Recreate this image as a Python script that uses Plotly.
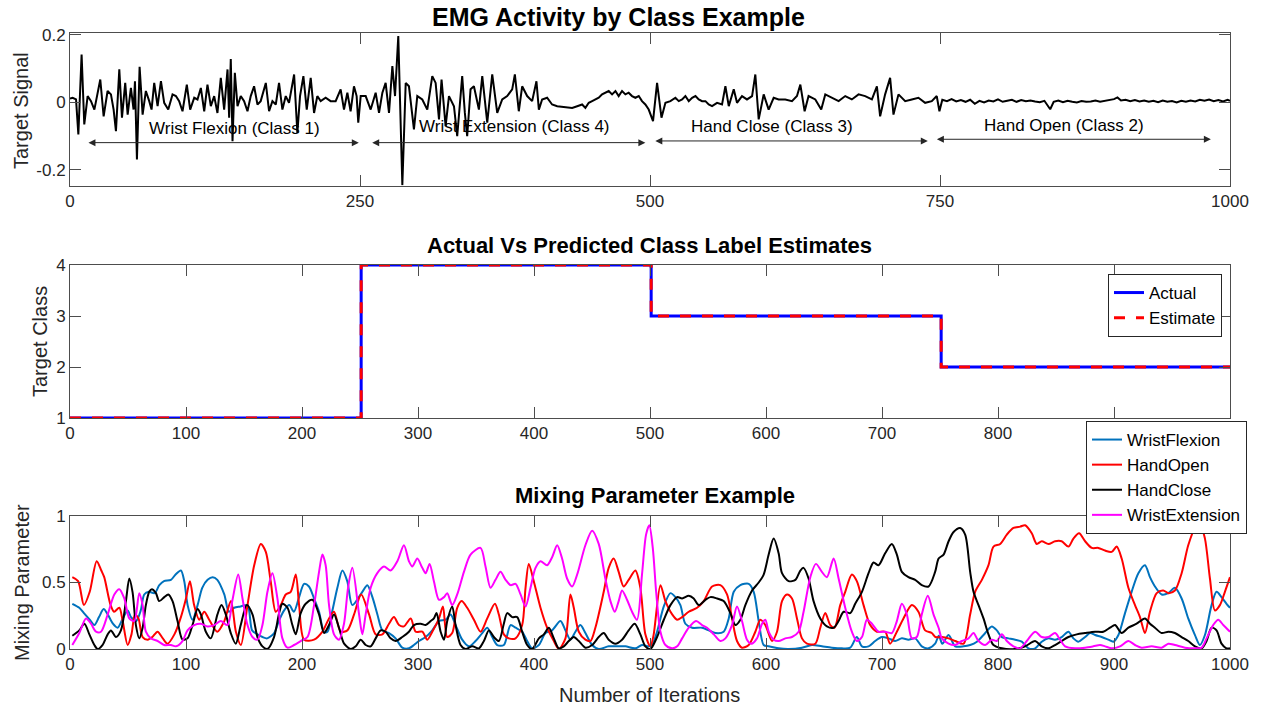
import plotly.graph_objects as go

W, H = 1261, 708

# ---------------- Panel 1 : EMG target signal ----------------
emg_iter = [0, 2.3, 5.2, 7.2, 10.0, 12.3, 15.2, 18.1, 21.0, 23.8, 26.1, 29.0, 32.4, 35.3, 37.6, 39.6, 42.5, 44.8,
            47.6, 49.7, 52.5, 54.8, 56.0, 57.7, 60.0, 62.6, 65.4, 68.3, 70.3, 72.6, 75.5, 78.4, 81.2, 84.7, 88.4,
            91.3, 94.1, 97.0, 100.7, 103.6, 107.1, 109.9, 112.8, 115.7, 118.5, 121.4, 124.3, 127.1, 130.0, 132.9,
            135.8, 137.2, 138.6, 140.1, 142.1, 144.4, 147.2, 150.1, 153.0, 155.8, 158.7, 161.6, 164.4, 168.8, 171.6,
            174.5, 177.4, 180.2, 183.1, 186.0, 188.8, 193.2, 196.0, 198.3, 201.2, 204.1, 207.5, 210.4, 213.2, 216.1,
            220.4, 224.7, 229.0, 233.3, 236.2, 239.1, 241.9, 244.8, 247.1, 248.5,
            250.6, 254.9, 259.2, 263.5, 266.4, 269.3, 272.1, 275.0, 277.9, 280.2, 283.0, 286.5, 289.4, 292.2, 296.5,
            299.4, 303.7, 308.0, 312.3, 315.2, 318.1, 320.3, 323.8, 326.7, 331.0, 333.8, 338.1, 340.4, 342.4, 345.3,
            348.2, 352.5, 355.4, 359.7, 364.0, 368.3, 372.6, 376.9, 381.2, 383.5, 386.9, 389.8, 394.1, 398.4, 402.1,
            404.2, 407.0, 411.3, 415.6, 420.0, 424.2, 428.5, 432.9, 437.2, 441.5, 444.3, 447.2, 450.1, 452.9, 455.8,
            458.7, 461.5, 464.4, 467.3, 470.2, 473.0, 475.9, 478.8, 481.6, 484.5, 487.4, 490.3, 493.1, 496.0, 498.9,
            502.6, 506.1, 509.9, 513.3, 517.6, 521.9, 524.8, 527.7, 530.5, 533.4, 536.3, 539.2, 542.0, 544.9, 547.8,
            550.6, 553.5, 557.8, 562.1, 565.0, 567.9, 572.2, 575.0, 579.3, 583.6, 588.0, 590.8, 593.7, 598.0, 602.3,
            606.6, 610.9, 616.6, 622.4, 626.7, 629.6, 633.3, 636.7, 642.5, 647.6, 651.1, 656.8, 662.6, 668.3, 674.0,
            679.8, 685.5, 691.3, 695.6, 698.4, 702.7, 707.0, 709.9, 714.2, 720.0, 725.7, 731.4, 737.2, 742.9, 747.2,
            749.5, 752, 756, 760, 764, 768, 772, 776, 780, 784, 788, 792, 796, 800, 804, 808, 812, 816, 820, 824,
            828, 832, 836, 840, 845, 848, 852, 856, 860, 864, 868, 872, 876, 880, 884, 888, 892, 896, 900, 903,
            906, 910, 914, 918, 922, 926, 930, 934, 938, 942, 946, 950, 954, 958, 962, 966, 970, 974, 978, 982,
            986, 990, 994, 998, 1000]
emg_val = [0.012, 0.014, 0.009, -0.095, 0.142, -0.065, 0.019, 0.004, -0.021, 0.024, 0.068, -0.041, 0.034, 0.024,
           -0.021, -0.085, 0.098, -0.045, 0.058, -0.036, 0.043, -0.021, 0.063, -0.169, 0.106, -0.036, 0.034, 0.004,
           -0.021, 0.058, -0.011, 0.063, -0.001, -0.021, 0.024, 0.019, 0.004, -0.026, 0.053, -0.021, 0.014, 0.009,
           0.043, -0.026, 0.053, -0.011, 0.019, -0.031, 0.073, -0.021, 0.098, -0.045, 0.129, -0.115, 0.088, -0.011,
           0.019, 0.004, -0.026, 0.019, 0.048, -0.006, 0.004, 0.058, -0.026, 0.004, -0.006, 0.058, -0.021, 0.019,
           -0.001, 0.083, -0.090, 0.019, 0.078, -0.021, 0.073, -0.031, 0.019, 0.004, 0.014, 0.004, 0.004, 0.039,
           -0.021, 0.029, -0.026, 0.048, 0.019, -0.060,
           0.019, 0.019, -0.021, 0.029, -0.031, 0.029, 0.058, -0.031, 0.108, 0.019, 0.197, -0.245, 0.058, 0.048,
           -0.080, 0.019, 0.009, -0.021, 0.078, 0.058, -0.050, 0.068, -0.070, 0.019, -0.011, -0.100, 0.078, -0.031,
           -0.100, 0.039, 0.048, -0.021, 0.078, -0.060, 0.083, -0.031, 0.009, 0.019, 0.039, 0.083, -0.026, 0.048,
           0.019, 0.004, 0.063, -0.021, 0.009, 0.014, -0.006, -0.011, -0.013, -0.016, -0.016, -0.011, -0.006,
           -0.016, -0.001, 0.004, 0.009, 0.014, 0.024, 0.029, 0.034, 0.024, 0.034, 0.019, 0.034, 0.024, 0.029,
           0.019, 0.014, 0.019, 0.004, -0.006, -0.021,
           -0.055, 0.058, -0.045, -0.001, 0.004, 0.014, 0.004, 0.009, 0.019, 0.004, 0.014, 0.019, 0.009, 0.004,
           0.004, -0.006, -0.011, -0.001, -0.006, 0.048, -0.011, 0.039, -0.001, 0.019, 0.009, 0.019, 0.083, -0.050,
           0.024, -0.021, 0.014, 0.009, 0.009, 0.004, 0.019, 0.053, -0.026, 0.019, 0.009, -0.021, 0.024, 0.014,
           0.004, 0.019, 0.009, 0.024, 0.019, 0.009, 0.048, -0.041, 0.024, 0.073, -0.036, 0.024, 0.004, 0.009,
           0.014, -0.001, 0.004, 0.019,
           -0.026, 0.008, 0.004, 0.010, 0.003, 0.007, 0.002, 0.008, -0.004, 0.005, 0.000, 0.006, 0.003, 0.009,
           0.002, 0.005, 0.008, 0.002, 0.007, 0.004, 0.006, 0.003, 0.001, 0.005, -0.020, 0.002, 0.006, 0.001,
           0.005, 0.002, 0.000, 0.004, 0.002, 0.003, 0.006, 0.002, 0.004, 0.008, 0.010, 0.015, 0.006, 0.008,
           0.004, 0.007, 0.003, 0.006, 0.002, 0.005, 0.001, 0.006, 0.002, 0.004, 0.000, 0.005, 0.002, 0.006,
           0.003, 0.008, 0.005, 0.009, 0.004, 0.007, 0.003, 0.008, 0.005]

class_names = ["Wrist Flexion (Class 1)", "Wrist Extension (Class 4)", "Hand Close (Class 3)", "Hand Open (Class 2)"]
label_x = [141.6, 383.0, 605.5, 856.5]
label_y = [-0.076, -0.072, -0.070, -0.067]
arrow_start = [14.6, 259.2, 503.3, 746.0]
arrow_end = [249.0, 496.0, 739.5, 983.5]
arrow_y = [-0.119, -0.119, -0.114, -0.109]

# ---------------- Panel 2 : class labels ----------------
step_iter = [0, 251, 501, 751, 1000]
actual_class = [1, 4, 3, 2, 2]
estimate_class = [1, 4, 3, 2, 2]

# ---------------- Panel 3 : mixing parameters ----------------
wf_x = [2, 8, 12, 17, 21, 25, 29, 32.5, 37, 41, 45, 49.7, 52.6, 57, 61, 64, 68, 73, 77, 81, 87, 91, 95.6, 98.5,
        101.4, 105.6, 110, 114, 118.6, 123, 127, 133, 137, 141.5, 147, 153, 157, 161.6, 166, 170, 176, 180, 184.6,
        189, 193, 197.5, 201.8, 206, 210.4, 214.7, 219, 222, 226, 230.5, 234.8, 239, 243.4,
        252, 256.3, 260.7, 265, 269.3, 275, 280.7, 286.5, 292.2, 296.5, 300.8, 306.6, 312.3, 318.1, 323.8, 328.1,
        332.4, 338.1, 343.9, 349.6, 355.4, 359.7, 364, 368.3, 374, 379.8, 384.1, 389.8, 394.1, 398.4, 404.2, 409.9,
        415.6, 422.8, 427.1, 431.4, 435.7, 440, 444.3, 450.1, 455.8, 464.4, 473, 478.8, 487.4, 493.1, 498.9,
        501.8, 506.1, 511.9, 517.6, 521.9, 526.2, 530.5, 536.3, 544.9, 550.6, 556.4, 563.5, 567.9, 572.2, 577.9,
        585.1, 589.4, 593.7, 598, 602.3, 610.9, 619.5, 631, 639.6, 648.2, 656.8, 665.4, 672.6, 678.3, 682.7, 688.4,
        694.1, 699.9, 705.6, 711.4, 717.1, 722.8, 728.6, 734.3, 740.1, 745.8, 749, 752, 757.4, 763.1, 770.3, 776,
        781.8, 787.5, 794.7, 799, 803.3, 809, 814.8, 820.5, 826.3, 832, 837.7, 843.5, 849.2, 854.9, 860.7, 865,
        869.3, 875.1, 879.4, 883.7, 889.4, 895.1, 899.5, 903.8, 909.5, 915.2, 921, 926.7, 931, 935.3, 941.1, 946.8,
        952.5, 958.3, 964, 969.8, 974.1, 978.4, 984.1, 988.4, 992.7, 997, 1000]
wf_y = [0.34, 0.31, 0.27, 0.22, 0.18, 0.24, 0.30, 0.26, 0.19, 0.16, 0.22, 0.29, 0.24, 0.21, 0.29, 0.41, 0.43, 0.42,
        0.48, 0.51, 0.52, 0.56, 0.59, 0.51, 0.33, 0.22, 0.33, 0.46, 0.52, 0.54, 0.52, 0.41, 0.28, 0.31, 0.32, 0.33,
        0.14, 0.11, 0.09, 0.08, 0.12, 0.21, 0.29, 0.33, 0.28, 0.39, 0.49, 0.47, 0.38, 0.28, 0.13, 0.13, 0.28, 0.46,
        0.59, 0.51, 0.33,
        0.43, 0.48, 0.39, 0.26, 0.14, 0.12, 0.08, 0.01, 0.005, 0.03, 0.06, 0.09, 0.14, 0.21, 0.22, 0.26, 0.18, 0.07,
        0.02, 0.06, 0.12, 0.16, 0.09, 0.03, 0.03, 0.18, 0.16, 0.13, 0.06, 0.005, 0.03, 0.12, 0.14, 0.21, 0.14, 0.07,
        0.13, 0.18, 0.12, 0.03, 0.0, 0.02, 0.02, 0.02, 0.005, 0.03, 0.02,
        0.03, 0.13, 0.32, 0.42, 0.39, 0.33, 0.19, 0.16, 0.16, 0.14, 0.12, 0.13, 0.23, 0.43, 0.48, 0.49, 0.43, 0.21,
        0.03, 0.02, 0.005, 0.0, 0.01, 0.03, 0.02, 0.01, 0.005, 0.01, 0.09, 0.02, 0.02, 0.06, 0.09, 0.08, 0.06, 0.08,
        0.07, 0.08, 0.02, 0.005, 0.04, 0.1, 0.04, 0.105, 0.02, 0.02, 0.03, 0.055, 0.105, 0.17, 0.14, 0.09, 0.08,
        0.07, 0.055, 0.005, 0.005, 0.055, 0.08, 0.07, 0.09, 0.13, 0.08, 0.055, 0.09, 0.12, 0.105, 0.09, 0.07, 0.055,
        0.105, 0.27, 0.43, 0.57, 0.63, 0.54, 0.47, 0.41, 0.42, 0.46, 0.38, 0.23, 0.105, 0.03, 0.105, 0.33, 0.43,
        0.39, 0.34, 0.31]

ho_x = [2, 7, 12, 17, 23, 27, 29.5, 35, 38, 42.5, 45.4, 49.7, 53, 56, 59, 62.6, 67, 71, 75.5, 80, 84, 90, 95.6,
        100, 103.4, 107, 111.4, 115.7, 120, 127, 133, 138.7, 143, 147.3, 153, 158.8, 164.5, 168.8, 173, 177.4, 181.7,
        186, 190.3, 194.6, 197.5, 201.8, 210.4, 217.6, 223.3, 227.6, 233.4, 239.1, 244.9,
        251, 257.8, 263.5, 269.3, 275, 279.3, 283.6, 287.9, 293.7, 298, 303.7, 308, 312.3, 318.1, 321.5, 325.2,
        329.5, 333.8, 337.6, 342.4, 348.2, 353.9, 359.7, 366.3, 369.7, 374, 378.3, 384.1, 389.8, 392.7, 395.5, 399.8,
        405.6, 411.3, 417.1, 421.4, 427.1, 431.4, 434.3, 438.6, 444.3, 448.6, 452.9, 460.1, 464.4, 468.7, 473,
        477.3, 481.6, 487.4, 491.7, 496, 500.3,
        503, 509, 513.3, 519.1, 523.4, 527.7, 533.4, 540.6, 546.3, 553.5, 560.7, 566.4, 570.7, 575, 579.3, 585.1,
        590.8, 595.1, 599.4, 605.2, 609.5, 613.8, 618.1, 622.4, 626.7, 631, 635.3, 642.5, 646.8, 651.1, 655.4,
        659.1, 664, 668.3, 674, 678.3, 684.1, 689.8, 695.6, 702.7, 707, 712.8, 718.5, 725.7, 731.4, 737.2, 742.9,
        746, 751.6, 757.4, 763.1, 770.3, 776, 780.3, 786.1, 791.8, 796.1, 801.9, 807.6, 813.3, 819.1, 823.4, 829.1,
        833.4, 837.7, 843.5, 849.2, 854.9, 860.7, 865, 869.9, 875.1, 880.8, 886.5, 892.3, 898, 902.3, 906.6, 912.4,
        918.1, 922.4, 926.7, 931, 936.8, 942.5, 946.8, 952.5, 958.3, 964, 969.8, 974.1, 978.4, 982.7, 987, 991.3,
        995.6, 1000]
ho_y = [0.54, 0.51, 0.33, 0.43, 0.66, 0.59, 0.54, 0.33, 0.28, 0.31, 0.21, 0.03, 0.11, 0.26, 0.23, 0.09, 0.07, 0.09,
        0.13, 0.08, 0.04, 0.11, 0.24, 0.38, 0.51, 0.33, 0.22, 0.28, 0.22, 0.13, 0.21, 0.36, 0.13, 0.03, 0.33, 0.63,
        0.79, 0.73, 0.51, 0.28, 0.33, 0.41, 0.43, 0.56, 0.33, 0.07, 0.07, 0.13, 0.23, 0.28, 0.13, 0.14, 0.26,
        0.41, 0.26, 0.11, 0.11, 0.19, 0.24, 0.18, 0.17, 0.23, 0.13, 0.13, 0.07, 0.13, 0.23, 0.32, 0.09, 0.12, 0.31,
        0.36, 0.31, 0.22, 0.13, 0.23, 0.34, 0.26, 0.11, 0.08, 0.08, 0.18, 0.46, 0.64, 0.51, 0.31, 0.16, 0.06, 0.0,
        0.08, 0.41, 0.31, 0.13, 0.07, 0.06, 0.16, 0.43, 0.61, 0.68, 0.58, 0.47, 0.52, 0.59, 0.46, 0.11, 0.02,
        0.10, 0.48, 0.36, 0.26, 0.22, 0.24, 0.28, 0.31, 0.36, 0.47, 0.48, 0.41, 0.23, 0.06, 0.01, 0.03, 0.13, 0.22,
        0.18, 0.06, 0.13, 0.36, 0.41, 0.38, 0.23, 0.08, 0.04, 0.04, 0.16, 0.27, 0.18, 0.16, 0.33, 0.43, 0.56, 0.51,
        0.33, 0.18, 0.13, 0.13, 0.04, 0.13, 0.23, 0.33, 0.28, 0.14, 0.12,
        0.09, 0.09, 0.08, 0.06, 0.04, 0.26, 0.43, 0.52, 0.63, 0.77, 0.79, 0.86, 0.91, 0.92, 0.93, 0.87, 0.79, 0.81,
        0.79, 0.81, 0.81, 0.77, 0.83, 0.87, 0.81, 0.76, 0.76, 0.74, 0.73, 0.77, 0.68, 0.46, 0.33, 0.24, 0.12, 0.28,
        0.42, 0.44, 0.42, 0.44, 0.57, 0.78, 0.91, 0.94, 0.83, 0.53, 0.29, 0.33, 0.43, 0.54]

hc_x = [2, 8, 12.4, 16.7, 21, 23.8, 28, 32.5, 35.3, 39.6, 43.9, 48.2, 51.1, 53.9, 56.8, 59.7, 62.6, 65.4, 68.3, 70.6,
        74.1, 76.9, 81.3, 84.7, 88.4, 92.7, 97, 101.3, 105.6, 110, 112.8, 117.1, 121.4, 127.1, 130.6, 134.3, 138.6,
        142.9, 147.2, 152.4, 157.3, 161.6, 165.9, 170.2, 175.9, 180.3, 183.1, 187.5, 191.7, 194.6, 198.9, 203.2, 209,
        214.7, 219, 223.3, 227.6, 231.9, 236.3, 242, 246.3,
        250.6, 254.9, 259.2, 263.5, 267.8, 272.1, 276.4, 280.7, 286.5, 292.2, 296.5, 302.3, 306.6, 310.9, 313.7, 316,
        319.5, 322.4, 325.2, 329.5, 332.4, 336.7, 341, 346.8, 352.5, 356.8, 361.1, 365.4, 369.7, 374, 376.9, 381.2,
        385.5, 389.8, 394.1, 398.4, 404.2, 408.5, 412.8, 417.1, 421.4, 425.7, 430, 434.3, 438.6, 444.3, 450.1, 455.8,
        460.1, 464.4, 470.2, 475.9, 481.6, 486.8, 491.7, 496, 500.3,
        506.1, 511.9, 517.6, 523.4, 527.7, 533.4, 537.7, 542, 547.8, 552.1, 557.8, 563.5, 569.3, 573.6, 577.9, 582.2,
        588, 593.7, 598, 602.3, 606.6, 610.9, 613.8, 619.5, 625.3, 629.6, 632.4, 636.7, 641, 646.8, 652.5, 658.3,
        662.6, 666.9, 672.6, 676.9, 682.7, 688.4, 692.7, 697, 702.7, 708.5, 712.8, 717.1, 722.8, 728.6, 734.3, 740.1,
        745.8, 748.8, 753.1, 757.4, 761.7, 767.4, 771.7, 776, 778.9, 783.2, 787.5, 791.8, 796.1, 803.3, 814.8, 823.4,
        832, 837.7, 843.5, 849.2, 854.9, 860.7, 867.9, 875.1, 883.7, 890.8, 896.6, 900.9, 906.6, 912.4, 919.5, 926.7,
        931, 935.3, 941.1, 946.8, 952.5, 958.3, 964, 969.8, 975.5, 979.8, 984.1, 988.4, 992.7, 997, 1000]
hc_y = [0.10, 0.14, 0.19, 0.11, 0.03, 0.0, 0.03, 0.11, 0.14, 0.09, 0.14, 0.36, 0.53, 0.43, 0.18, 0.08, 0.16, 0.33,
        0.43, 0.45, 0.42, 0.36, 0.39, 0.41, 0.36, 0.21, 0.07, 0.08, 0.18, 0.30, 0.26, 0.13, 0.08, 0.26, 0.33, 0.26,
        0.12, 0.04, 0.18, 0.33, 0.26, 0.09, 0.02, 0.0, 0.09, 0.27, 0.34, 0.31, 0.18, 0.11, 0.27, 0.34, 0.37, 0.26,
        0.12, 0.18, 0.26, 0.16, 0.04, 0.0, 0.02,
        0.07, 0.03, 0.02, 0.08, 0.14, 0.13, 0.08, 0.06, 0.09, 0.13, 0.18, 0.19, 0.18, 0.21, 0.23, 0.27, 0.13, 0.07,
        0.21, 0.32, 0.18, 0.03, 0.0, 0.02, 0.005, 0.06, 0.14, 0.09, 0.06, 0.19, 0.27, 0.24, 0.24, 0.13, 0.03, 0.0,
        0.08, 0.11, 0.16, 0.08, 0.005, 0.02, 0.06, 0.09, 0.06, 0.01, 0.03, 0.09, 0.12, 0.07, 0.04, 0.07, 0.14, 0.19,
        0.11, 0.02, 0.0,
        0.09, 0.22, 0.33, 0.39, 0.38, 0.40, 0.38, 0.33, 0.37, 0.39, 0.38, 0.36, 0.27, 0.18, 0.22, 0.33, 0.44, 0.50,
        0.56, 0.71, 0.83, 0.72, 0.57, 0.51, 0.52, 0.59, 0.61, 0.53, 0.36, 0.23, 0.17, 0.16, 0.21, 0.28, 0.27, 0.34,
        0.43, 0.57, 0.65, 0.63, 0.72, 0.79, 0.71, 0.58, 0.54, 0.52, 0.48, 0.47, 0.58, 0.68, 0.71, 0.81, 0.88, 0.91,
        0.86, 0.58, 0.43, 0.33, 0.23, 0.11, 0.03, 0.005, 0.0, 0.02, 0.06, 0.02, 0.005, 0.03, 0.06, 0.09, 0.11, 0.12,
        0.13, 0.13, 0.16, 0.18, 0.12, 0.16, 0.19, 0.23, 0.19, 0.16, 0.12, 0.13, 0.12, 0.09, 0.06, 0.02, 0.005, 0.06,
        0.16, 0.14, 0.04, 0.005, 0.005]

we_x = [2, 8, 13.8, 18.1, 22.4, 26.7, 32.5, 38.2, 42.5, 46.8, 51.1, 55.4, 59.7, 62.6, 65.4, 69.7, 75.5, 81.2, 87,
        91.3, 97, 101.3, 107.1, 112.8, 118.5, 124.3, 130, 135.8, 140.1, 145, 148.7, 153, 157.3, 161.6, 165.9, 170.2,
        174.5, 178.8, 183.1, 187.5, 193.2, 198.9, 204.7, 210.4, 214.7, 217.6, 220.4, 223.3, 227.6, 231.9, 236.2,
        239.7, 243.4,
        249.2, 252, 254.9, 259.2, 264.9, 270.7, 276.4, 282.2, 287.9, 292.2, 295.1, 299.4, 303.7, 306.6, 310, 313.7,
        318.1, 322.4, 325.2, 329.5, 333.8, 339.6, 345.3, 353.9, 358.2, 362.5, 366.8, 371.1, 375.5, 379.8, 384.1,
        388.4, 392.7, 397, 401.3, 405.6, 411.3, 415.6, 420, 424.2, 428.5, 432.9, 437.2, 444.3, 450.1, 455.8, 461.5,
        465.9, 469.6, 473, 475.9, 480.2, 484.5, 488.8, 493.1, 496.6, 499.4,
        502.4, 505.3, 509, 513.3, 519.1, 523.4, 527.7, 533.4, 539.7, 544.9, 549.2, 555, 560.7, 565, 570.7, 575,
        579.3, 583.6, 587.4, 592.2, 596.6, 599.4, 602.3, 606.6, 610.9, 616.6, 622.4, 628.1, 632.4, 638.2, 643,
        648.2, 652.5, 658.3, 662.6, 668.3, 674, 678.3, 682.7, 687, 691.3, 697, 702.7, 708.5, 712.8, 717.1, 721.4,
        725.7, 730, 734.3, 739.5, 744.4,
        748.8, 751.6, 757.4, 763.1, 768.9, 774.6, 778.9, 783.2, 789, 794.7, 799, 803.3, 807.6, 813.3, 819.1, 824.8,
        832, 837.7, 843.5, 849.2, 853.5, 857.8, 866.4, 875.1, 882.2, 888, 892.3, 898, 905.2, 912.4, 918.1, 923.8,
        932.5, 941.1, 946.8, 952.5, 961.2, 969.8, 975.5, 979.8, 985.5, 989.9, 994.2, 1000]
we_y = [0.03, 0.12, 0.23, 0.19, 0.13, 0.13, 0.26, 0.41, 0.45, 0.38, 0.23, 0.21, 0.42, 0.33, 0.13, 0.08, 0.06, 0.03,
        0.03, 0.02, 0.06, 0.14, 0.18, 0.19, 0.17, 0.18, 0.21, 0.18, 0.37, 0.56, 0.38, 0.18, 0.09, 0.07, 0.18, 0.43,
        0.57, 0.38, 0.08, 0.01, 0.03, 0.06, 0.09, 0.33, 0.58, 0.71, 0.63, 0.33, 0.11, 0.07, 0.19, 0.46, 0.61,
        0.26, 0.11, 0.26, 0.46, 0.57, 0.62, 0.59, 0.66, 0.78, 0.66, 0.62, 0.68, 0.61, 0.57, 0.64, 0.51, 0.37, 0.39,
        0.42, 0.33, 0.41, 0.58, 0.71, 0.76, 0.62, 0.46, 0.52, 0.58, 0.52, 0.48, 0.49, 0.41, 0.32, 0.46, 0.61, 0.66,
        0.63, 0.69, 0.78, 0.68, 0.53, 0.47, 0.56, 0.78, 0.89, 0.79, 0.53, 0.36, 0.28, 0.36, 0.44, 0.37, 0.28, 0.22,
        0.56, 0.86, 0.93,
        0.76, 0.43, 0.13, 0.03, 0.005, 0.02, 0.08, 0.16, 0.21, 0.18, 0.16, 0.11, 0.06, 0.08, 0.18, 0.32, 0.21, 0.07,
        0.04, 0.08, 0.19, 0.22, 0.13, 0.07, 0.06, 0.08, 0.09, 0.13, 0.28, 0.54, 0.64, 0.58, 0.54, 0.68, 0.53, 0.31,
        0.13, 0.06, 0.09, 0.22, 0.19, 0.13, 0.13, 0.12, 0.21, 0.34, 0.26, 0.08, 0.09, 0.26, 0.40, 0.26,
        0.16, 0.08, 0.04, 0.03, 0.06, 0.08, 0.12, 0.06, 0.03, 0.07, 0.06, 0.11, 0.06, 0.02, 0.005, 0.06, 0.13, 0.09,
        0.09, 0.12, 0.07, 0.02, 0.005, 0.01, 0.02, 0.03, 0.02, 0.005, 0.02, 0.06, 0.03, 0.01, 0.02, 0.01, 0.04, 0.03,
        0.01, 0.005, 0.01, 0.08, 0.18, 0.22, 0.18, 0.13]

mix_names = ["WristFlexion", "HandOpen", "HandClose", "WristExtension"]
mix_colors = ["#0072BD", "#FF0000", "#000000", "#FF00FF"]

x_ticks_top = [0, 250, 500, 750, 1000]
x_ticks = [0, 100, 200, 300, 400, 500, 600, 700, 800, 900, 1000]

# ---------------- figure ----------------
FONT = "Liberation Sans, Arial, Helvetica, sans-serif"
TXT = "#262626"
AX = "#4d4d4d"


def px_x(p):
    return p / W


def px_y(p):
    return 1 - p / H


L, R = 70, 1230
dom_x = [px_x(L), px_x(R)]
dom1 = [px_y(185.5), px_y(33.3)]
dom2 = [px_y(418), px_y(265)]
dom3 = [px_y(649), px_y(516)]

fig = go.Figure()

fig.add_trace(go.Scatter(x=emg_iter, y=emg_val, mode="lines", line=dict(color="black", width=2),
                         xaxis="x", yaxis="y", showlegend=False, hoverinfo="skip"))

fig.add_trace(go.Scatter(x=step_iter, y=actual_class, mode="lines", name="Actual", line_shape="hv",
                         line=dict(color="#0000FF", width=3), xaxis="x2", yaxis="y2", legend="legend"))
fig.add_trace(go.Scatter(x=step_iter, y=estimate_class, mode="lines", name="Estimate", line_shape="hv",
                         line=dict(color="#FF0000", width=3, dash="11px,11px"), xaxis="x2", yaxis="y2",
                         legend="legend"))

for xs, ys, nm, col in [(wf_x, wf_y, mix_names[0], mix_colors[0]), (ho_x, ho_y, mix_names[1], mix_colors[1]),
                        (hc_x, hc_y, mix_names[2], mix_colors[2]), (we_x, we_y, mix_names[3], mix_colors[3])]:
    fig.add_trace(go.Scatter(x=xs, y=ys, mode="lines", name=nm, line_shape="spline",
                             line=dict(color=col, width=2, smoothing=0.8), xaxis="x3", yaxis="y3",
                             legend="legend2"))

axis_common = dict(showline=True, linecolor=AX, linewidth=1, mirror="ticks", ticks="inside", ticklen=11,
                   tickcolor=AX, tickwidth=1, showgrid=False, zeroline=False,
                   tickfont=dict(family=FONT, size=17, color=TXT))

annotations = []
for nm, lx, ly in zip(class_names, label_x, label_y):
    annotations.append(dict(x=lx, y=ly, xref="x", yref="y", text=nm, showarrow=False,
                            font=dict(family=FONT, size=17, color="black")))
for a0, a1, ay in zip(arrow_start, arrow_end, arrow_y):
    annotations.append(dict(x=a1, y=ay, ax=a0, ay=ay, xref="x", yref="y", axref="x", ayref="y", text="",
                            showarrow=True, arrowhead=2, arrowside="end+start", arrowsize=1.4, arrowwidth=1,
                            arrowcolor="#262626"))

titles = [("EMG Activity by Class Example", 618, 17, 25), ("Actual Vs Predicted Class Label Estimates", 650, 245, 22),
          ("Mixing Parameter Example", 655, 495, 22)]
for t, xc, yc, fs in titles:
    annotations.append(dict(x=px_x(xc), y=px_y(yc), xref="paper", yref="paper", text="<b>%s</b>" % t,
                            showarrow=False, xanchor="center", yanchor="middle",
                            font=dict(family=FONT, size=fs, color="black")))

ylabels = [("Target Signal", 21, 111), ("Target Class", 40, 342), ("Mixing Parameter", 22, 583)]
for t, xc, yc in ylabels:
    annotations.append(dict(x=px_x(xc), y=px_y(yc), xref="paper", yref="paper", text=t, textangle=-90,
                            showarrow=False, xanchor="center", yanchor="middle",
                            font=dict(family=FONT, size=20, color=TXT)))
annotations.append(dict(x=px_x(650), y=px_y(695), xref="paper", yref="paper", text="Number of Iterations",
                        showarrow=False, xanchor="center", yanchor="middle",
                        font=dict(family=FONT, size=20, color=TXT)))

fig.update_layout(
    width=W, height=H, margin=dict(l=0, r=0, t=0, b=0, autoexpand=False),
    paper_bgcolor="white", plot_bgcolor="white",
    xaxis=dict(domain=dom_x, anchor="y", range=[0, 1000], tickvals=x_ticks_top, **axis_common),
    yaxis=dict(domain=dom1, anchor="x", range=[-0.246, 0.205], tickvals=[-0.2, 0, 0.2],
               ticktext=["-0.2", "0", "0.2"], **axis_common),
    xaxis2=dict(domain=dom_x, anchor="y2", range=[0, 1000], tickvals=x_ticks,
                ticktext=[str(v) for v in x_ticks[:-1]] + [""], **axis_common),
    yaxis2=dict(domain=dom2, anchor="x2", range=[1, 4], tickvals=[1, 2, 3, 4], **axis_common),
    xaxis3=dict(domain=dom_x, anchor="y3", range=[0, 1000], tickvals=x_ticks, **axis_common),
    yaxis3=dict(domain=dom3, anchor="x3", range=[0, 1], tickvals=[0, 0.5, 1], ticktext=["0", "0.5", "1"],
                **axis_common),
    legend=dict(x=px_x(1222), y=px_y(274), xanchor="right", yanchor="top", bgcolor="white",
                bordercolor="#262626", borderwidth=1, font=dict(family=FONT, size=17, color="black"),
                tracegroupgap=0, itemwidth=30),
    legend2=dict(x=px_x(1247), y=px_y(421), xanchor="right", yanchor="top", bgcolor="white",
                 bordercolor="#262626", borderwidth=1, font=dict(family=FONT, size=17, color="black"),
                 tracegroupgap=0, itemwidth=30),
    annotations=annotations,
    showlegend=True,
)

fig.write_html("out.html", config={"displayModeBar": False},
               post_script="document.body.style.margin='0px';document.body.style.overflow='hidden';")
